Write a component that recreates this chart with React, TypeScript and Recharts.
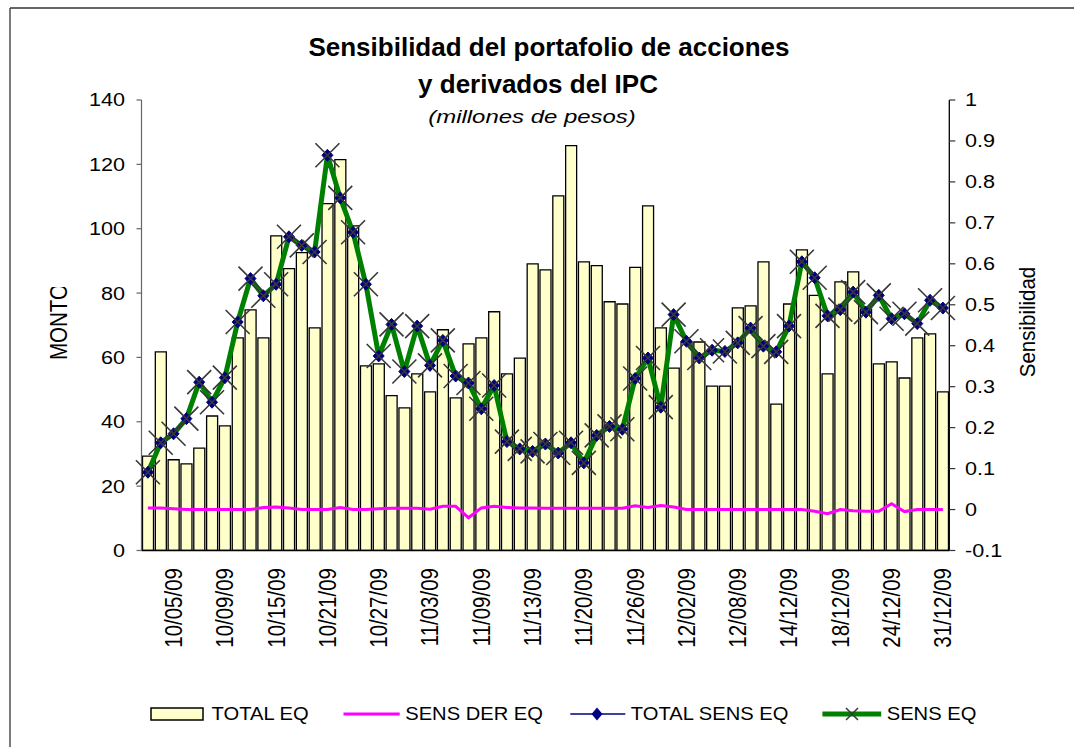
import React from 'react';
import { ComposedChart, Bar, Line, XAxis, YAxis } from 'recharts';

// ---------- data ----------
const DATES = [
  '10/01/09', '10/02/09', '10/05/09', '10/06/09', '10/07/09', '10/08/09', '10/09/09', '10/12/09',
  '10/13/09', '10/14/09', '10/15/09', '10/16/09', '10/19/09', '10/20/09', '10/21/09', '10/22/09',
  '10/23/09', '10/26/09', '10/27/09', '10/28/09', '10/29/09', '10/30/09', '11/03/09', '11/04/09',
  '11/05/09', '11/06/09', '11/09/09', '11/10/09', '11/11/09', '11/12/09', '11/13/09', '11/17/09',
  '11/18/09', '11/19/09', '11/20/09', '11/23/09', '11/24/09', '11/25/09', '11/26/09', '11/27/09',
  '11/30/09', '12/01/09', '12/02/09', '12/03/09', '12/04/09', '12/07/09', '12/08/09', '12/09/09',
  '12/10/09', '12/11/09', '14/12/09', '15/12/09', '16/12/09', '17/12/09', '18/12/09', '21/12/09',
  '22/12/09', '23/12/09', '24/12/09', '28/12/09', '29/12/09', '30/12/09', '31/12/09',
];

const TICK_LABELS = [
  '10/05/09', '10/09/09', '10/15/09', '10/21/09', '10/27/09', '11/03/09', '11/09/09', '11/13/09',
  '11/20/09', '11/26/09', '12/02/09', '12/08/09', '14/12/09', '18/12/09', '24/12/09', '31/12/09',
];

const TOTAL_EQ = [
  29.3, 61.7, 28.2, 26.9, 31.8, 41.8, 38.7, 66.1, 74.8, 66.1, 97.8, 87.6, 92.6, 69.2, 107.8, 121.5,
  100.9, 57.4, 58.0, 48.1, 44.3, 54.9, 49.3, 68.6, 47.4, 64.2, 66.1, 74.2, 54.9, 59.8, 89.1, 87.2,
  110.2, 125.8, 89.7, 88.5, 77.3, 76.6, 88.0, 107.1, 69.2, 56.7, 64.8, 64.8, 51.1, 51.1, 75.4, 76.0,
  89.7, 45.5, 76.6, 93.4, 79.3, 54.9, 83.5, 86.6, 75.0, 58.0, 58.6, 53.6, 66.1, 67.3, 49.3,
];

const SENS_DER_EQ = [
  0.004, 0.004, 0.002, 0.0, 0.0, 0.0, 0.0, 0.0, 0.0, 0.005, 0.006, 0.004, 0.0, 0.0, 0.0, 0.005,
  0.0, 0.0, 0.002, 0.003, 0.003, 0.003, 0.001, 0.008, 0.008, -0.02, 0.004, 0.008, 0.005, 0.004, 0.004, 0.003,
  0.003, 0.003, 0.003, 0.003, 0.003, 0.003, 0.009, 0.005, 0.01, 0.006, 0.0, 0.0, 0.0, 0.0, 0.0, 0.0,
  0.0, 0.0, 0.0, 0.0, -0.004, -0.01, 0.0, -0.003, -0.004, -0.004, 0.014, -0.005, 0.0, 0.0, 0.0,
];

const SENS_EQ = [
  0.091, 0.163, 0.185, 0.222, 0.311, 0.262, 0.322, 0.458, 0.564, 0.522, 0.55, 0.666, 0.645, 0.629, 0.865, 0.761,
  0.677, 0.55, 0.375, 0.452, 0.337, 0.448, 0.352, 0.413, 0.326, 0.309, 0.246, 0.303, 0.166, 0.148, 0.142, 0.16,
  0.138, 0.163, 0.114, 0.181, 0.203, 0.196, 0.32, 0.37, 0.25, 0.476, 0.411, 0.37, 0.389, 0.386, 0.407, 0.443,
  0.399, 0.385, 0.448, 0.605, 0.566, 0.473, 0.488, 0.531, 0.482, 0.523, 0.466, 0.478, 0.454, 0.511, 0.492,
];

const TOTAL_SENS_EQ = [
  0.091, 0.163, 0.185, 0.222, 0.311, 0.262, 0.322, 0.458, 0.564, 0.522, 0.55, 0.666, 0.645, 0.629, 0.865, 0.761,
  0.677, 0.55, 0.375, 0.452, 0.337, 0.448, 0.352, 0.413, 0.326, 0.309, 0.246, 0.303, 0.166, 0.148, 0.142, 0.16,
  0.138, 0.163, 0.114, 0.181, 0.203, 0.196, 0.32, 0.37, 0.25, 0.476, 0.411, 0.37, 0.389, 0.386, 0.407, 0.443,
  0.399, 0.385, 0.448, 0.605, 0.566, 0.473, 0.488, 0.531, 0.482, 0.523, 0.466, 0.478, 0.454, 0.511, 0.492,
];

const LEFT_TICKS = [0, 20, 40, 60, 80, 100, 120, 140];
const RIGHT_TICKS = [-0.1, 0, 0.1, 0.2, 0.3, 0.4, 0.5, 0.6, 0.7, 0.8, 0.9, 1];

const SERIES_NAMES = ['TOTAL EQ', 'SENS DER EQ', 'TOTAL SENS EQ', 'SENS EQ'];
const TITLE_1 = 'Sensibilidad del portafolio de acciones';
const TITLE_2 = 'y derivados del IPC';
const SUBTITLE = '(millones de pesos)';
const LEFT_LABEL = 'MONTO';
const RIGHT_LABEL = 'Sensibilidad';

// ---------- layout ----------
const W = 1074;
const H = 747;
const PLOT_LEFT = 141.5;
const PLOT_RIGHT = 949.3;
const PLOT_TOP = 100;
const PLOT_BOTTOM = 550.5;
const FONT = '"Liberation Sans", Arial, Helvetica, sans-serif';

const data = DATES.map((d, i) => ({
  date: d,
  totalEq: TOTAL_EQ[i],
  sensDer: SENS_DER_EQ[i],
  totalSens: TOTAL_SENS_EQ[i],
  sensEq: SENS_EQ[i],
}));

const fmtRight = (v: number) => String(Math.round(v * 10) / 10);

const LeftTick = (props: any) => {
  const { x, y, payload } = props;
  return (
    <text
      transform={`translate(${x},${y}) scale(1.2,1)`}
      x={0}
      y={0}
      dy="0.358em"
      textAnchor="end"
      fontSize={18}
      fontFamily={FONT}
      fill="#000"
    >
      {payload.value}
    </text>
  );
};

const RightTick = (props: any) => {
  const { x, y, payload } = props;
  return (
    <text
      transform={`translate(${x},${y}) scale(1.2,1)`}
      x={0}
      y={0}
      dy="0.358em"
      textAnchor="start"
      fontSize={18}
      fontFamily={FONT}
      fill="#000"
    >
      {fmtRight(payload.value)}
    </text>
  );
};

const BottomTick = (props: any) => {
  const { x, y, payload } = props;
  if (!TICK_LABELS.includes(payload.value)) return <g />;
  return (
    <text
      transform={`translate(${x},${y}) scale(1.14,1) rotate(-90)`}
      x={0}
      y={0}
      dy="0.358em"
      textAnchor="end"
      fontSize={20.5}
      fontFamily={FONT}
      fill="#000"
    >
      {payload.value}
    </text>
  );
};

const DiamondDot = (p: any) => {
  const { cx, cy, index } = p;
  if (cx == null || cy == null) return <g key={`dm-${index}`} />;
  const s = 5.5;
  return (
    <path
      key={`dm-${index}`}
      d={`M${cx},${cy - s - 0.5}L${cx + s},${cy}L${cx},${cy + s + 0.5}L${cx - s},${cy}Z`}
      fill="#000080"
      stroke="#000080"
      strokeWidth={1}
    />
  );
};

const CrossDot = (p: any) => {
  const { cx, cy, index } = p;
  if (cx == null || cy == null) return <g key={`cx-${index}`} />;
  const s = 12;
  return (
    <path
      key={`cx-${index}`}
      d={`M${cx - s},${cy - s}L${cx + s},${cy + s}M${cx - s},${cy + s}L${cx + s},${cy - s}`}
      stroke="#383838"
      strokeWidth={1.6}
      fill="none"
    />
  );
};

const LEG_Y = 714;
const legendText = (x: number, label: string) => (
  <text
    transform={`translate(${x},${LEG_Y}) scale(1.12,1)`}
    x={0}
    y={0}
    dy="0.358em"
    fontSize={18}
    fontFamily={FONT}
    fill="#000"
  >
    {label}
  </text>
);

export default function App() {
  return (
    <div style={{ position: 'absolute', left: 0, top: 0, width: W, height: H, background: '#fff' }}>
      <svg
        width={W}
        height={H}
        style={{ position: 'absolute', left: 0, top: 0, pointerEvents: 'none' }}
      >
        <defs>
          <clipPath id="montoClip">
            <rect x={0} y={287} width={120} height={200} />
          </clipPath>
        </defs>
        {/* outer frame */}
        <line x1={10} y1={8} x2={W} y2={8} stroke="#333" strokeWidth={1.3} />
        <line x1={10} y1={8} x2={10} y2={H} stroke="#333" strokeWidth={1.3} />

        {/* titles */}
        <text x={549} y={56} textAnchor="middle" fontSize={26} fontWeight="bold" fontFamily={FONT} fill="#000">
          {TITLE_1}
        </text>
        <text x={538} y={93} textAnchor="middle" fontSize={26} fontWeight="bold" fontFamily={FONT} fill="#000">
          {TITLE_2}
        </text>
        <text
          transform={`translate(532,123) scale(1.26,1)`}
          x={0}
          y={0}
          textAnchor="middle"
          fontSize={19}
          fontStyle="italic"
          fontFamily={FONT}
          fill="#000"
        >
          {SUBTITLE}
        </text>

        {/* axis titles */}
        <g clipPath="url(#montoClip)">
          <text
            transform={`translate(58.3,322) scale(1.14,1) rotate(-90)`}
            x={0}
            y={0}
            dy="0.358em"
            textAnchor="middle"
            fontSize={20.5}
            fontFamily={FONT}
            fill="#000"
          >
            {LEFT_LABEL}
          </text>
        </g>
        <text
          transform={`translate(1026.7,322) scale(1.12,1) rotate(-90)`}
          x={0}
          y={0}
          dy="0.36em"
          textAnchor="middle"
          fontSize={20.5}
          fontFamily={FONT}
          fill="#000"
        >
          {RIGHT_LABEL}
        </text>

        {/* legend */}
        <rect x={151} y={708} width={52} height={12} fill="#FFFFCC" stroke="#000" strokeWidth={1.5} />
        {legendText(211.5, SERIES_NAMES[0])}
        <line x1={343.5} y1={LEG_Y} x2={399.7} y2={LEG_Y} stroke="#FF00FF" strokeWidth={3} />
        {legendText(405.2, SERIES_NAMES[1])}
        <line x1={570.3} y1={LEG_Y} x2={625.3} y2={LEG_Y} stroke="#000080" strokeWidth={1.5} />
        <path d={`M597,${LEG_Y - 6.5}L602.5,${LEG_Y}L597,${LEG_Y + 6.5}L591.5,${LEG_Y}Z`} fill="#000080" />
        {legendText(630.8, SERIES_NAMES[2])}
        <line x1={822.4} y1={LEG_Y} x2={881.2} y2={LEG_Y} stroke="#008000" strokeWidth={5} />
        <path
          d={`M846,${LEG_Y - 6}L858,${LEG_Y + 6}M846,${LEG_Y + 6}L858,${LEG_Y - 6}`}
          stroke="#383838"
          strokeWidth={1.5}
        />
        {legendText(886.7, SERIES_NAMES[3])}
      </svg>

      <div style={{ position: 'absolute', left: 0, top: 0 }}>
        <ComposedChart
          width={W}
          height={H}
          data={data}
          margin={{ top: PLOT_TOP, right: 0, bottom: 0, left: 0 }}
          barCategoryGap={1}
        >
          <XAxis
            dataKey="date"
            type="category"
            interval={0}
            height={H - PLOT_BOTTOM}
            tickLine={false}
            tickSize={6}
            tickMargin={11.5}
            axisLine={{ stroke: '#000', strokeWidth: 1.3 }}
            tick={<BottomTick />}
          />
          <YAxis
            yAxisId="left"
            orientation="left"
            width={PLOT_LEFT}
            domain={[0, 140]}
            ticks={LEFT_TICKS}
            interval={0}
            allowDataOverflow
            tickSize={5}
            tickMargin={11.5}
            axisLine={{ stroke: '#666', strokeWidth: 1.2 }}
            tickLine={{ stroke: '#666', strokeWidth: 1.2 }}
            tick={<LeftTick />}
          />
          <YAxis
            yAxisId="right"
            orientation="right"
            width={W - PLOT_RIGHT}
            domain={[-0.1, 1]}
            ticks={RIGHT_TICKS}
            interval={0}
            allowDataOverflow
            tickSize={6}
            tickMargin={9.7}
            axisLine={{ stroke: '#000', strokeWidth: 1.3 }}
            tickLine={{ stroke: '#333', strokeWidth: 1.2 }}
            tick={<RightTick />}
          />
          <Bar
            yAxisId="left"
            dataKey="totalEq"
            name={SERIES_NAMES[0]}
            fill="#FFFFCC"
            stroke="#000"
            strokeWidth={1.3}
            isAnimationActive={false}
          />
          <Line
            yAxisId="right"
            dataKey="sensDer"
            name={SERIES_NAMES[1]}
            type="linear"
            stroke="#FF00FF"
            strokeWidth={3}
            dot={false}
            activeDot={false}
            isAnimationActive={false}
          />
          <Line
            yAxisId="right"
            dataKey="totalSens"
            name={SERIES_NAMES[2]}
            type="linear"
            stroke="#000080"
            strokeWidth={1.5}
            dot={false}
            activeDot={false}
            isAnimationActive={false}
          />
          <Line
            yAxisId="right"
            dataKey="sensEq"
            name={SERIES_NAMES[3]}
            type="linear"
            stroke="#008000"
            strokeWidth={5}
            strokeLinejoin="round"
            dot={false}
            activeDot={false}
            isAnimationActive={false}
          />
          <Line
            yAxisId="right"
            dataKey="totalSens"
            name={`${SERIES_NAMES[2]} markers`}
            legendType="none"
            type="linear"
            stroke="none"
            dot={DiamondDot}
            activeDot={false}
            isAnimationActive={false}
          />
          <Line
            yAxisId="right"
            dataKey="sensEq"
            name={`${SERIES_NAMES[3]} markers`}
            legendType="none"
            type="linear"
            stroke="none"
            dot={CrossDot}
            activeDot={false}
            isAnimationActive={false}
          />
        </ComposedChart>
      </div>
    </div>
  );
}
